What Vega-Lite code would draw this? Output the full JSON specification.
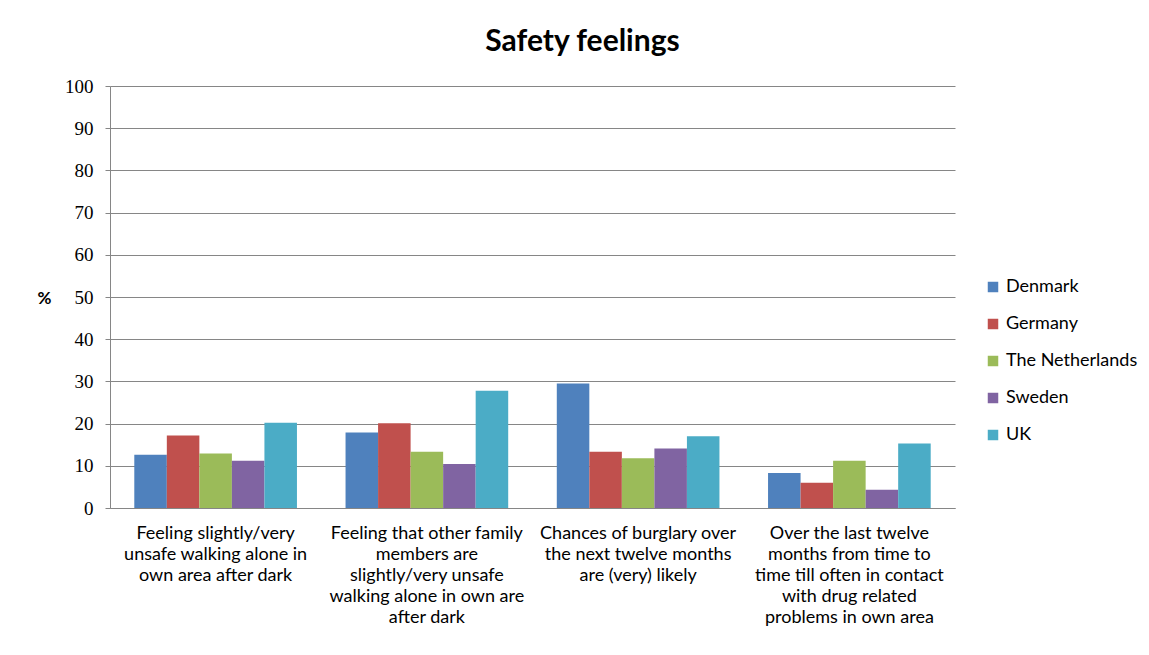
{
  "$schema": "https://vega.github.io/schema/vega-lite/v6.json",
  "autosize": {"type": "none"},
  "width": 845,
  "height": 422,
  "padding": {"left": 110, "top": 86, "right": 194, "bottom": 147},
  "background": "white",
  "title": {
    "text": "Safety feelings",
    "font": "Lato",
    "fontSize": 30,
    "fontWeight": "bold",
    "color": "#000000",
    "anchor": "middle",
    "dx": 50,
    "offset": 20
  },
  "data": {
    "values": [
      {"q": "Feeling slightly/very|unsafe walking alone in|own area after dark", "country": "Denmark", "pct": 12.6},
      {"q": "Feeling slightly/very|unsafe walking alone in|own area after dark", "country": "Germany", "pct": 17.2},
      {"q": "Feeling slightly/very|unsafe walking alone in|own area after dark", "country": "The Netherlands", "pct": 12.9},
      {"q": "Feeling slightly/very|unsafe walking alone in|own area after dark", "country": "Sweden", "pct": 11.2},
      {"q": "Feeling slightly/very|unsafe walking alone in|own area after dark", "country": "UK", "pct": 20.2},
      {"q": "Feeling that other family|members are|slightly/very unsafe|walking alone in own are|after dark", "country": "Denmark", "pct": 17.9},
      {"q": "Feeling that other family|members are|slightly/very unsafe|walking alone in own are|after dark", "country": "Germany", "pct": 20.1},
      {"q": "Feeling that other family|members are|slightly/very unsafe|walking alone in own are|after dark", "country": "The Netherlands", "pct": 13.3},
      {"q": "Feeling that other family|members are|slightly/very unsafe|walking alone in own are|after dark", "country": "Sweden", "pct": 10.4},
      {"q": "Feeling that other family|members are|slightly/very unsafe|walking alone in own are|after dark", "country": "UK", "pct": 27.8},
      {"q": "Chances of burglary over|the next twelve months|are (very) likely", "country": "Denmark", "pct": 29.5},
      {"q": "Chances of burglary over|the next twelve months|are (very) likely", "country": "Germany", "pct": 13.3},
      {"q": "Chances of burglary over|the next twelve months|are (very) likely", "country": "The Netherlands", "pct": 11.8},
      {"q": "Chances of burglary over|the next twelve months|are (very) likely", "country": "Sweden", "pct": 14.1},
      {"q": "Chances of burglary over|the next twelve months|are (very) likely", "country": "UK", "pct": 17.0},
      {"q": "Over the last twelve|months from time to|time till often in contact|with drug related|problems in own area", "country": "Denmark", "pct": 8.3},
      {"q": "Over the last twelve|months from time to|time till often in contact|with drug related|problems in own area", "country": "Germany", "pct": 6.0},
      {"q": "Over the last twelve|months from time to|time till often in contact|with drug related|problems in own area", "country": "The Netherlands", "pct": 11.2},
      {"q": "Over the last twelve|months from time to|time till often in contact|with drug related|problems in own area", "country": "Sweden", "pct": 4.3},
      {"q": "Over the last twelve|months from time to|time till often in contact|with drug related|problems in own area", "country": "UK", "pct": 15.3}
    ]
  },
  "mark": {"type": "bar"},
  "encoding": {
    "x": {
      "field": "q",
      "type": "nominal",
      "sort": null,
      "scale": {"paddingInner": 0.23, "paddingOuter": 0.115},
      "axis": {
        "title": null,
        "labelAngle": 0,
        "labelExpr": "split(datum.label, '|')",
        "labelFont": "Lato",
        "labelFontSize": 18,
        "labelColor": "#000000",
        "labelLineHeight": 21,
        "labelLimit": 0,
        "labelPadding": 16,
        "ticks": false,
        "domainColor": "#868686",
        "domainWidth": 1
      }
    },
    "xOffset": {"field": "country", "type": "nominal", "sort": ["Denmark", "Germany", "The Netherlands", "Sweden", "UK"], "scale": {"paddingInner": 0, "paddingOuter": 0}},
    "y": {
      "field": "pct",
      "type": "quantitative",
      "scale": {"domain": [0, 100], "nice": false},
      "axis": {
        "values": [0, 10, 20, 30, 40, 50, 60, 70, 80, 90, 100],
        "title": "%",
        "titleAngle": 0,
        "titleX": -66,
        "titleY": 212,
        "titleAlign": "center",
        "titleBaseline": "middle",
        "titleFont": "Lato",
        "titleFontSize": 17,
        "titleFontWeight": "bold",
        "titleColor": "#000000",
        "labelFont": "Liberation Serif",
        "labelFontSize": 19,
        "labelColor": "#000000",
        "labelPadding": 12,
        "tickSize": 5,
        "tickColor": "#868686",
        "domainColor": "#868686",
        "gridColor": "#868686",
        "gridWidth": 1
      }
    },
    "color": {
      "field": "country",
      "type": "nominal",
      "sort": ["Denmark", "Germany", "The Netherlands", "Sweden", "UK"],
      "scale": {
        "domain": ["Denmark", "Germany", "The Netherlands", "Sweden", "UK"],
        "range": ["#4F81BD", "#C0504D", "#9BBB59", "#8064A2", "#4BACC6"]
      },
      "legend": {
        "title": null,
        "orient": "none",
        "legendX": 874,
        "legendY": 192,
        "symbolType": "square",
        "symbolSize": 110,
        "symbolStrokeWidth": 0,
        "labelFont": "Lato",
        "labelFontSize": 18,
        "labelColor": "#000000",
        "labelOffset": 4,
        "rowPadding": 19
      }
    }
  },
  "config": {
    "view": {"stroke": null},
    "axis": {"gridOpacity": 1}
  }
}
